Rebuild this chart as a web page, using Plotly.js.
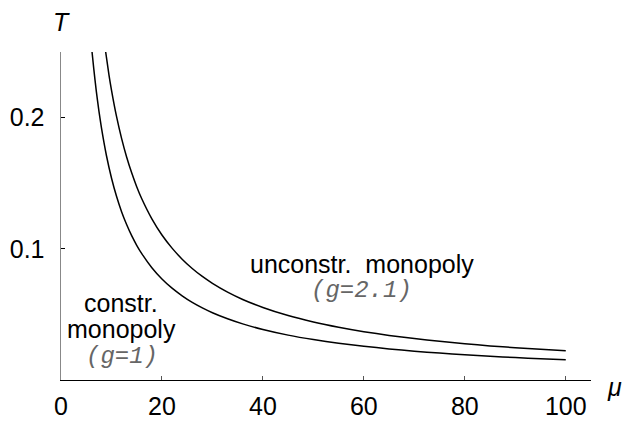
<!DOCTYPE html>
<html>
<head>
<meta charset="utf-8">
<script src="https://cdn.plot.ly/plotly-3.0.1.min.js"></script>
<style>html,body{margin:0;padding:0;background:#fff;}#chart{width:628px;height:429px;}</style>
</head>
<body>
<div id="chart"></div>
<script>
// Constrained monopoly (g = 1)
const muConstr = [6.15, 6.5, 7, 7.5, 8, 9, 10, 11, 12, 13, 14, 15, 16, 18, 20, 22, 24, 26, 28, 30, 33, 36, 40, 45, 50, 55, 60, 65, 70, 75, 80, 85, 90, 95, 100];
const tConstr  = [0.2500, 0.2369, 0.2200, 0.2053, 0.1925, 0.1711, 0.1540, 0.1400, 0.1283, 0.1185, 0.1100, 0.1027, 0.0963, 0.0856, 0.0770, 0.0700, 0.0642, 0.0592, 0.0550, 0.0513, 0.0467, 0.0428, 0.0385, 0.0342, 0.0308, 0.0280, 0.0257, 0.0237, 0.0220, 0.0205, 0.0193, 0.0181, 0.0171, 0.0162, 0.0155];
// Unconstrained monopoly (g = 2.1)
const muUnconstr = [8.85, 9.5, 10, 11, 12, 13, 14, 15, 16, 18, 20, 22, 24, 26, 28, 30, 33, 36, 40, 45, 50, 55, 60, 65, 70, 75, 80, 85, 90, 95, 100];
const tUnconstr  = [0.2500, 0.2326, 0.2210, 0.2009, 0.1842, 0.1700, 0.1579, 0.1473, 0.1381, 0.1228, 0.1105, 0.1005, 0.0921, 0.0850, 0.0789, 0.0737, 0.0670, 0.0614, 0.0553, 0.0491, 0.0442, 0.0402, 0.0368, 0.0340, 0.0316, 0.0295, 0.0276, 0.0260, 0.0246, 0.0234, 0.0223];

const xTicks = [0, 20, 40, 60, 80, 100];
const yTicks = [0.1, 0.2];
const yTickText = ['0.1', '0.2'];

const sans = 'Liberation Sans, Arial, Helvetica, sans-serif';
const mono = 'Liberation Mono, Courier New, monospace';

const traces = [
  {x: muConstr, y: tConstr, mode: 'lines', line: {color: '#000', width: 1.5, shape: 'spline', smoothing: 0.6}, hoverinfo: 'skip'},
  {x: muUnconstr, y: tUnconstr, mode: 'lines', line: {color: '#000', width: 1.5, shape: 'spline', smoothing: 0.6}, hoverinfo: 'skip'}
];

const layout = {
  width: 628, height: 429,
  margin: {l: 61, r: 37, t: 52, b: 49},
  paper_bgcolor: '#fff', plot_bgcolor: '#fff',
  showlegend: false,
  font: {family: sans, size: 25, color: '#000'},
  xaxis: {
    range: [0, 105], tickvals: xTicks, ticktext: xTicks.map(String),
    showgrid: false, zeroline: false, showline: true, linecolor: '#000', linewidth: 1.3,
    ticks: 'inside', ticklen: 4, tickwidth: 1, tickcolor: '#555',
    tickfont: {family: sans, size: 25, color: '#000'}, ticklabelstandoff: 4
  },
  yaxis: {
    range: [0, 0.25], tickvals: yTicks, ticktext: yTickText,
    showgrid: false, zeroline: false, showline: true, linecolor: '#888', linewidth: 1.5,
    ticks: 'inside', ticklen: 4, tickwidth: 1, tickcolor: '#000',
    tickfont: {family: sans, size: 25, color: '#000'}, ticklabelstandoff: 10
  },
  annotations: [
    {xref: 'paper', yref: 'paper', x: 0, y: 1.09, text: '<i>T</i>', showarrow: false, xanchor: 'center', yanchor: 'middle', font: {family: sans, size: 25}},
    {xref: 'paper', yref: 'paper', x: 1.045, y: -0.02, text: '<i>μ</i>', showarrow: false, xanchor: 'center', yanchor: 'middle', font: {family: sans, size: 25}},
    {x: 59.6, y: 0.0885, text: 'unconstr.&nbsp; monopoly', showarrow: false, xanchor: 'center', yanchor: 'middle', font: {family: sans, size: 25}},
    {x: 59.6, y: 0.068, text: '<i>(g=2.1)</i>', showarrow: false, xanchor: 'center', yanchor: 'middle', font: {family: mono, size: 24, color: '#666'}},
    {x: 11.9, y: 0.0588, text: 'constr.', showarrow: false, xanchor: 'center', yanchor: 'middle', font: {family: sans, size: 25}},
    {x: 12.0, y: 0.039, text: 'monopoly', showarrow: false, xanchor: 'center', yanchor: 'middle', font: {family: sans, size: 25}},
    {x: 12.0, y: 0.0176, text: '<i>(g=1)</i>', showarrow: false, xanchor: 'center', yanchor: 'middle', font: {family: mono, size: 24, color: '#666'}}
  ]
};

Plotly.newPlot('chart', traces, layout, {staticPlot: true, displayModeBar: false});
</script>
</body>
</html>
